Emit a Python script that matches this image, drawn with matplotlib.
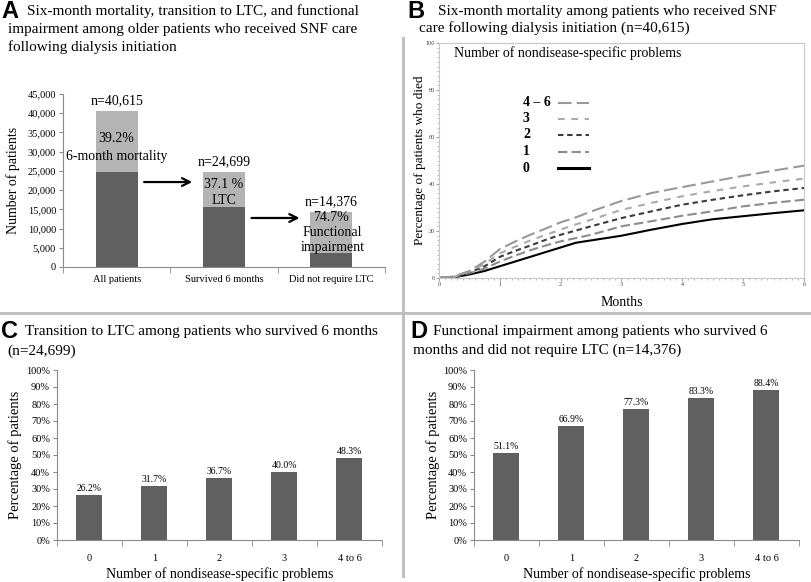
import numpy as np
import matplotlib.pyplot as plt
from matplotlib.lines import Line2D
from matplotlib.ticker import FuncFormatter, MultipleLocator, FixedLocator

plt.rcParams['font.family'] = ['Liberation Serif', 'DejaVu Serif']

# Panel A: cohort flow
stages = ["All patients", "Survived 6 months", "Did not require LTC"]
stage_totals = [40615, 24699, 14376]
stage_lower = [24699, 15536, 3637]  # dark part of each bar
stage_pct = ["39.2%", "37.1 %", "74.7%"]
stage_desc = ["6-month mortality", "LTC", "Functional\nimpairment"]

# Panel B: cumulative six-month mortality by number of problems
months = [0, 0.25, 0.5, 0.75, 1, 1.25, 1.5, 1.75, 2, 2.25, 2.5, 3, 3.5, 4, 4.5, 5, 5.5, 6]
mort_0 = [0, 0.3, 1.5, 3.0, 5.0, 7.0, 9.0, 11.0, 13.0, 15.0, 16.0, 18.0, 20.6, 23.0, 25.0, 26.3, 27.6, 28.8]
mort_1 = [0, 0.4, 2.0, 4.0, 7.0, 9.5, 11.8, 13.8, 15.6, 17.0, 18.4, 22.0, 24.2, 26.5, 28.4, 30.5, 32.0, 33.3]
mort_2 = [0, 0.5, 2.3, 5.0, 9.0, 11.5, 13.8, 16.2, 18.4, 20.2, 22.0, 25.5, 28.4, 31.2, 33.3, 35.2, 36.9, 38.3]
mort_3 = [0, 0.6, 2.6, 6.0, 10.5, 13.3, 16.0, 18.3, 20.6, 22.8, 24.8, 29.0, 32.0, 34.8, 37.0, 39.0, 40.7, 42.3]
mort_4 = [0, 0.7, 3.0, 7.0, 12.3, 15.5, 18.4, 21.0, 23.7, 25.8, 28.3, 32.8, 36.2, 38.7, 41.1, 43.5, 45.7, 47.8]

# Panels C and D
groups = ["0", "1", "2", "3", "4 to 6"]
ltc_pct = [26.2, 31.7, 36.7, 40.0, 48.3]
impair_pct = [51.1, 66.9, 77.3, 83.3, 88.4]

W, H = 812, 582
fig = plt.figure(figsize=(W / 100, H / 100), dpi=100)
DARK = '#606060'
LIGHT = '#b4b4b4'
AXC = '#8a8a8a'


def px_axes(l, t, r, b):
    return fig.add_axes([l / W, 1 - b / H, (r - l) / W, (b - t) / H])


def fig_text(x, y, s, **kw):
    fig.text(x / W, 1 - y / H, s, va='center', ha='left', **kw)


def panel_letter(x, y, s):
    fig_text(x, y, s, fontsize=17, fontweight='bold', family='Liberation Sans')


def bar_style(ax):
    for sp in ['top', 'right']:
        ax.spines[sp].set_visible(False)
    for sp in ['left', 'bottom']:
        ax.spines[sp].set_color(AXC)
        ax.spines[sp].set_linewidth(0.8)
    ax.tick_params(axis='y', length=3, color=AXC, labelsize=7.5, pad=2)
    ax.tick_params(axis='x', which='major', length=0, labelsize=7.5, pad=10)
    ax.tick_params(axis='x', which='minor', length=4, color=AXC)


# ---------------- Panel A ----------------
axA = px_axes(63, 94, 385, 267)
xA = np.arange(len(stages))
axA.bar(xA, stage_lower, width=0.39, color=DARK)
axA.bar(xA, np.array(stage_totals) - np.array(stage_lower), bottom=stage_lower,
        width=0.39, color=LIGHT)
axA.set_xlim(-0.5, 2.5)
axA.set_ylim(0, 45000)
axA.yaxis.set_major_locator(MultipleLocator(5000))
axA.yaxis.set_major_formatter(FuncFormatter(lambda v, p: f"{int(v):,}"))
axA.set_xticks(xA)
axA.set_xticklabels(stages)
axA.xaxis.set_minor_locator(FixedLocator([-0.5, 0.5, 1.5, 2.5]))
bar_style(axA)
axA.tick_params(axis='x', which='major', pad=6)
axA.set_ylabel("Number of patients", fontsize=10)
axA.yaxis.set_label_coords(-0.134, 0.5)

for i, tot in enumerate(stage_totals):
    axA.text(i, tot + 2600, f"n={tot:,}", ha='center', va='center', fontsize=10)
axA.text(0, 33550, stage_pct[0], ha='center', va='center', fontsize=10)
axA.text(0, 28870, stage_desc[0], ha='center', va='center', fontsize=10)
axA.text(1, 21330, stage_pct[1], ha='center', va='center', fontsize=10)
axA.text(1, 17170, stage_desc[1], ha='center', va='center', fontsize=10)
axA.text(2, 12750, stage_pct[2], ha='center', va='center', fontsize=10)
axA.text(2.01, 7000, stage_desc[2], ha='center', va='center', fontsize=10,
         linespacing=1.15)
axA.annotate("", xy=(0.73, 22100), xytext=(0.23, 22100),
             arrowprops=dict(arrowstyle='->', lw=1.6, color='black', mutation_scale=14))
axA.annotate("", xy=(1.73, 12750), xytext=(1.23, 12750),
             arrowprops=dict(arrowstyle='->', lw=1.6, color='black', mutation_scale=14))

panel_letter(1, 12, "A")
fig_text(27, 11, "Six-month mortality, transition to LTC, and functional", fontsize=11)
fig_text(8, 29, "impairment among older patients who received SNF care", fontsize=11)
fig_text(8, 47, "following dialysis initiation", fontsize=11)

# ---------------- Panel B ----------------
axB = px_axes(439, 43, 804, 278)
series = [
    ("0", mort_0, dict(color='black', lw=1.5, ls='-')),
    ("1", mort_1, dict(color='#8c8c8c', lw=1.5, dashes=(4.5, 2))),
    ("2", mort_2, dict(color='#3c3c3c', lw=1.5, dashes=(2.6, 1.8))),
    ("3", mort_3, dict(color='#aaaaaa', lw=1.5, dashes=(3.2, 3.2))),
    ("4 \u2013 6", mort_4, dict(color='#999999', lw=1.5, dashes=(6.5, 2.5))),
]
for name, vals, st in series:
    axB.plot(months, vals, **st)
axB.set_xlim(0, 6)
axB.set_ylim(0, 100)
axB.xaxis.set_major_locator(MultipleLocator(1))
axB.xaxis.set_minor_locator(MultipleLocator(0.1))
axB.yaxis.set_major_locator(MultipleLocator(20))
axB.yaxis.set_minor_locator(MultipleLocator(2))
for sp in axB.spines.values():
    sp.set_color('#c8c8c8')
    sp.set_linewidth(0.8)
axB.tick_params(which='major', length=2, color='#a0a0a0', labelsize=4.5,
                labelcolor='#444444', pad=1)
axB.tick_params(which='minor', length=1.2, color='#b0b0b0')
axB.set_xlabel("Months", fontsize=10)
axB.xaxis.set_label_coords(0.5, -0.075)
axB.set_ylabel("Percentage of patients who died", fontsize=9.5)
axB.yaxis.set_label_coords(-0.036, 0.5)
axB.text(0.041, 0.957, "Number of nondisease-specific problems", transform=axB.transAxes,
         ha='left', va='center', fontsize=10)
# legend, drawn top-down: 4-6, 3, 2, 1, 0
key_rows = [0.745, 0.677, 0.609, 0.538, 0.468]
for (name, vals, st), yk in zip(series[::-1], key_rows):
    axB.text(0.230, yk, name, transform=axB.transAxes, ha='left', va='center',
             fontsize=10, fontweight='bold')
    kst = dict(st)
    if name == "0":
        kst['lw'] = 2.2
    axB.plot([0.326, 0.411], [yk, yk], transform=axB.transAxes, **kst)

panel_letter(407, 12, "B")
fig_text(438, 12, "Six-month mortality among patients who received SNF", fontsize=11)
fig_text(419, 28, "care following dialysis initiation (n=40,615)", fontsize=11)


# ---------------- Panels C and D ----------------
def pct_panel(ax, vals):
    x = np.arange(len(groups))
    ax.bar(x, vals, width=0.4, color=DARK)
    for i, v in enumerate(vals):
        ax.text(i, v + 1.2, f"{v:.1f}%", ha='center', va='bottom', fontsize=7)
    ax.set_xlim(-0.5, len(groups) - 0.5)
    ax.set_ylim(0, 100)
    ax.yaxis.set_major_locator(MultipleLocator(10))
    ax.yaxis.set_major_formatter(FuncFormatter(lambda v, p: f"{int(v)}%"))
    ax.set_xticks(x)
    ax.set_xticklabels(groups)
    ax.xaxis.set_minor_locator(FixedLocator(np.arange(-0.5, len(groups), 1.0)))
    bar_style(ax)
    ax.set_xlabel("Number of nondisease-specific problems", fontsize=10)
    ax.xaxis.set_label_coords(0.5, -0.16)
    ax.set_ylabel("Percentage of patients", fontsize=10.5)


axC = px_axes(57, 370, 382, 540)
pct_panel(axC, ltc_pct)
axC.yaxis.set_label_coords(-0.108, 0.5)
panel_letter(1, 332, "C")
fig_text(25, 332, "Transition to LTC among patients who survived 6 months", fontsize=11)
fig_text(7, 351, "(n=24,699)", fontsize=11)

axD = px_axes(474, 370, 799, 540)
pct_panel(axD, impair_pct)
axD.yaxis.set_label_coords(-0.105, 0.5)
panel_letter(410, 332, "D")
fig_text(433, 332, "Functional impairment among patients who survived 6", fontsize=11)
fig_text(413, 350, "months and did not require LTC (n=14,376)", fontsize=11)

# panel dividers
fig.add_artist(Line2D([0, 1], [1 - 313 / H, 1 - 313 / H], color='#c0c0c0', lw=2.2))
fig.add_artist(Line2D([403 / W, 403 / W], [1 - 38 / H, 1 - 576 / H], color='#c0c0c0', lw=2.2))

fig.savefig("out.png", dpi=100)
